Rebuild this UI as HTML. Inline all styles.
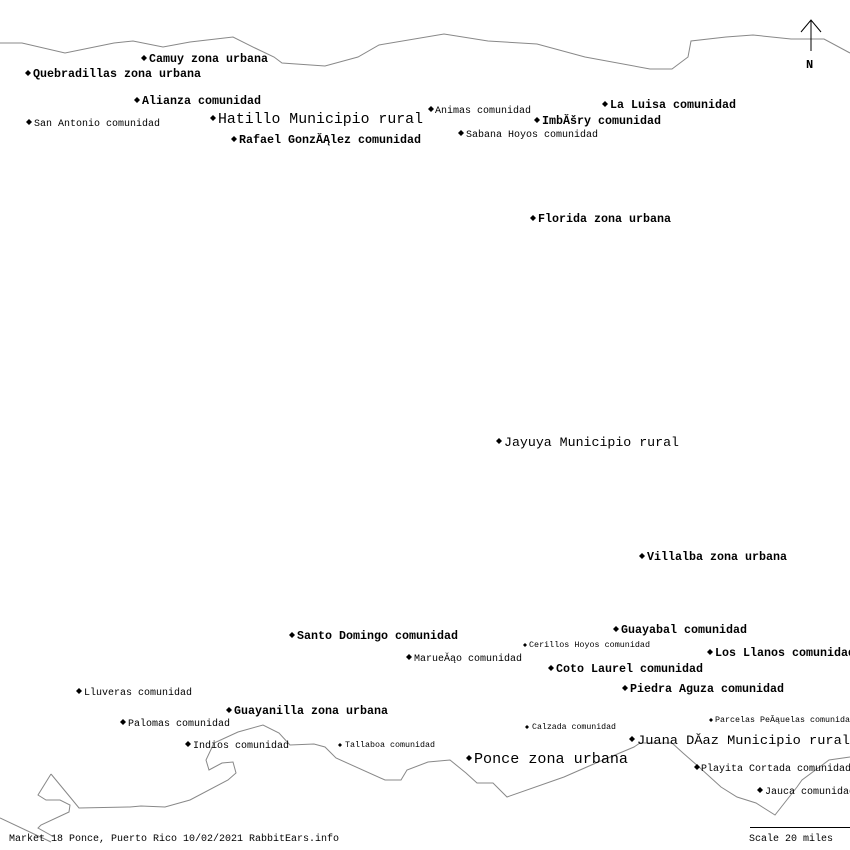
<!DOCTYPE html>
<html><head><meta charset="utf-8"><style>
html,body{margin:0;padding:0;background:#fff;}
svg{display:block}
text{font-family:"Liberation Mono","DejaVu Sans Mono",monospace;fill:#000}
.b{font-weight:bold;font-size:12px}
.s{font-size:10px}
.t{font-size:8px}
.m{font-size:13px}
.l{font-size:15px}
</style></head><body>
<svg width="850" height="850" viewBox="0 0 850 850" xmlns="http://www.w3.org/2000/svg">
<g fill="none" stroke="#888" stroke-width="1">
<polyline points="0,43 22,43 65,53 114,43 133,41 163,47 190,42 233,37 255,48 274,57 282,63 325,66 358,57 379,45 444,34 488,41 537,44 585,57 650,69 672,69 688,57 691,41 726,37 753,35 791,39 824,39 850,53"/>
<polyline points="0,818 51,842"/>
<polyline points="51,774 38,795 46,800 60,800 70,805 69,812 41,825 38,828 54,837"/>
<polyline points="51,774 70,797 79,808 130,807 141,806 165,807 190,800 228,780 236,773 233,762 222,763 209,770 206,760 214,743 238,732 263,725 279,733 290,745 314,744 325,747 336,758 385,780 401,780 407,770 428,762 450,760 466,773 477,783 493,783 507,797 564,777 596,763 634,747 640,743 672,743 683,753 699,767 721,787 737,797 756,803 775,815 797,787 802,780 829,760 850,757"/>
</g>
<g fill="#000">
<polygon points="144,55 147,58 144,61 141,58"/>
<polygon points="28,70 31,73 28,76 25,73"/>
<polygon points="137,97 140,100 137,103 134,100"/>
<polygon points="29,119 32,122 29,125 26,122"/>
<polygon points="213,115 216,118 213,121 210,118"/>
<polygon points="234,136 237,139 234,142 231,139"/>
<polygon points="431,106 434,109 431,112 428,109"/>
<polygon points="537,117 540,120 537,123 534,120"/>
<polygon points="605,101 608,104 605,107 602,104"/>
<polygon points="461,130 464,133 461,136 458,133"/>
<polygon points="533,215 536,218 533,221 530,218"/>
<polygon points="499,438 502,441 499,444 496,441"/>
<polygon points="642,553 645,556 642,559 639,556"/>
<polygon points="616,626 619,629 616,632 613,629"/>
<polygon points="292,632 295,635 292,638 289,635"/>
<polygon points="525,643 527,645 525,647 523,645"/>
<polygon points="409,654 412,657 409,660 406,657"/>
<polygon points="710,649 713,652 710,655 707,652"/>
<polygon points="551,665 554,668 551,671 548,668"/>
<polygon points="79,688 82,691 79,694 76,691"/>
<polygon points="625,685 628,688 625,691 622,688"/>
<polygon points="229,707 232,710 229,713 226,710"/>
<polygon points="711,718 713,720 711,722 709,720"/>
<polygon points="123,719 126,722 123,725 120,722"/>
<polygon points="527,725 529,727 527,729 525,727"/>
<polygon points="188,741 191,744 188,747 185,744"/>
<polygon points="340,743 342,745 340,747 338,745"/>
<polygon points="632,736 635,739 632,742 629,739"/>
<polygon points="469,755 472,758 469,761 466,758"/>
<polygon points="697,764 700,767 697,770 694,767"/>
<polygon points="760,787 763,790 760,793 757,790"/>
</g>
<text class="b" x="149" y="62" textLength="119" lengthAdjust="spacingAndGlyphs">Camuy zona urbana</text>
<text class="b" x="33" y="77" textLength="168" lengthAdjust="spacingAndGlyphs">Quebradillas zona urbana</text>
<text class="b" x="142" y="104" textLength="119" lengthAdjust="spacingAndGlyphs">Alianza comunidad</text>
<text class="s" x="34" y="126" textLength="126" lengthAdjust="spacingAndGlyphs">San Antonio comunidad</text>
<text class="l" x="218" y="123" textLength="205" lengthAdjust="spacingAndGlyphs">Hatillo Municipio rural</text>
<text class="b" x="239" y="143" textLength="182" lengthAdjust="spacingAndGlyphs">Rafael GonzĂĄlez comunidad</text>
<text class="s" x="435" y="113" textLength="96" lengthAdjust="spacingAndGlyphs">Animas comunidad</text>
<text class="b" x="542" y="124" textLength="119" lengthAdjust="spacingAndGlyphs">ImbĂšry comunidad</text>
<text class="b" x="610" y="108" textLength="126" lengthAdjust="spacingAndGlyphs">La Luisa comunidad</text>
<text class="s" x="466" y="137" textLength="132" lengthAdjust="spacingAndGlyphs">Sabana Hoyos comunidad</text>
<text class="b" x="538" y="222" textLength="133" lengthAdjust="spacingAndGlyphs">Florida zona urbana</text>
<text class="m" x="504" y="446" textLength="175" lengthAdjust="spacingAndGlyphs">Jayuya Municipio rural</text>
<text class="b" x="647" y="560" textLength="140" lengthAdjust="spacingAndGlyphs">Villalba zona urbana</text>
<text class="b" x="621" y="633" textLength="126" lengthAdjust="spacingAndGlyphs">Guayabal comunidad</text>
<text class="b" x="297" y="639" textLength="161" lengthAdjust="spacingAndGlyphs">Santo Domingo comunidad</text>
<text class="t" x="529" y="647" textLength="121" lengthAdjust="spacingAndGlyphs">Cerillos Hoyos comunidad</text>
<text class="s" x="414" y="661" textLength="108" lengthAdjust="spacingAndGlyphs">MarueĂąo comunidad</text>
<text class="b" x="715" y="656" textLength="140" lengthAdjust="spacingAndGlyphs">Los Llanos comunidad</text>
<text class="b" x="556" y="672" textLength="147" lengthAdjust="spacingAndGlyphs">Coto Laurel comunidad</text>
<text class="s" x="84" y="695" textLength="108" lengthAdjust="spacingAndGlyphs">Lluveras comunidad</text>
<text class="b" x="630" y="692" textLength="154" lengthAdjust="spacingAndGlyphs">Piedra Aguza comunidad</text>
<text class="b" x="234" y="714" textLength="154" lengthAdjust="spacingAndGlyphs">Guayanilla zona urbana</text>
<text class="t" x="715" y="722" textLength="140" lengthAdjust="spacingAndGlyphs">Parcelas PeĂąuelas comunidad</text>
<text class="s" x="128" y="726" textLength="102" lengthAdjust="spacingAndGlyphs">Palomas comunidad</text>
<text class="t" x="532" y="729" textLength="84" lengthAdjust="spacingAndGlyphs">Calzada comunidad</text>
<text class="s" x="193" y="748" textLength="96" lengthAdjust="spacingAndGlyphs">Indios comunidad</text>
<text class="t" x="345" y="747" textLength="90" lengthAdjust="spacingAndGlyphs">Tallaboa comunidad</text>
<text class="m" x="637" y="744" textLength="213" lengthAdjust="spacingAndGlyphs">Juana DĂ­az Municipio rural</text>
<text class="l" x="474" y="763" textLength="154" lengthAdjust="spacingAndGlyphs">Ponce zona urbana</text>
<text class="s" x="701" y="771" textLength="150" lengthAdjust="spacingAndGlyphs">Playita Cortada comunidad</text>
<text class="s" x="765" y="794" textLength="90" lengthAdjust="spacingAndGlyphs">Jauca comunidad</text>
<text class="s" x="9" y="841" textLength="330" lengthAdjust="spacingAndGlyphs">Market 18 Ponce, Puerto Rico 10/02/2021 RabbitEars.info</text>
<text class="s" x="749" y="841" textLength="84" lengthAdjust="spacingAndGlyphs">Scale 20 miles</text>
<line x1="750" y1="827.5" x2="850" y2="827.5" stroke="#000" stroke-width="1"/>
<g stroke="#000" stroke-width="1" fill="none">
<line x1="811" y1="20" x2="811" y2="51"/>
<polyline points="801,32 811,20 821,32"/>
</g>
<text class="b" x="806" y="68">N</text>
</svg>
</body></html>
